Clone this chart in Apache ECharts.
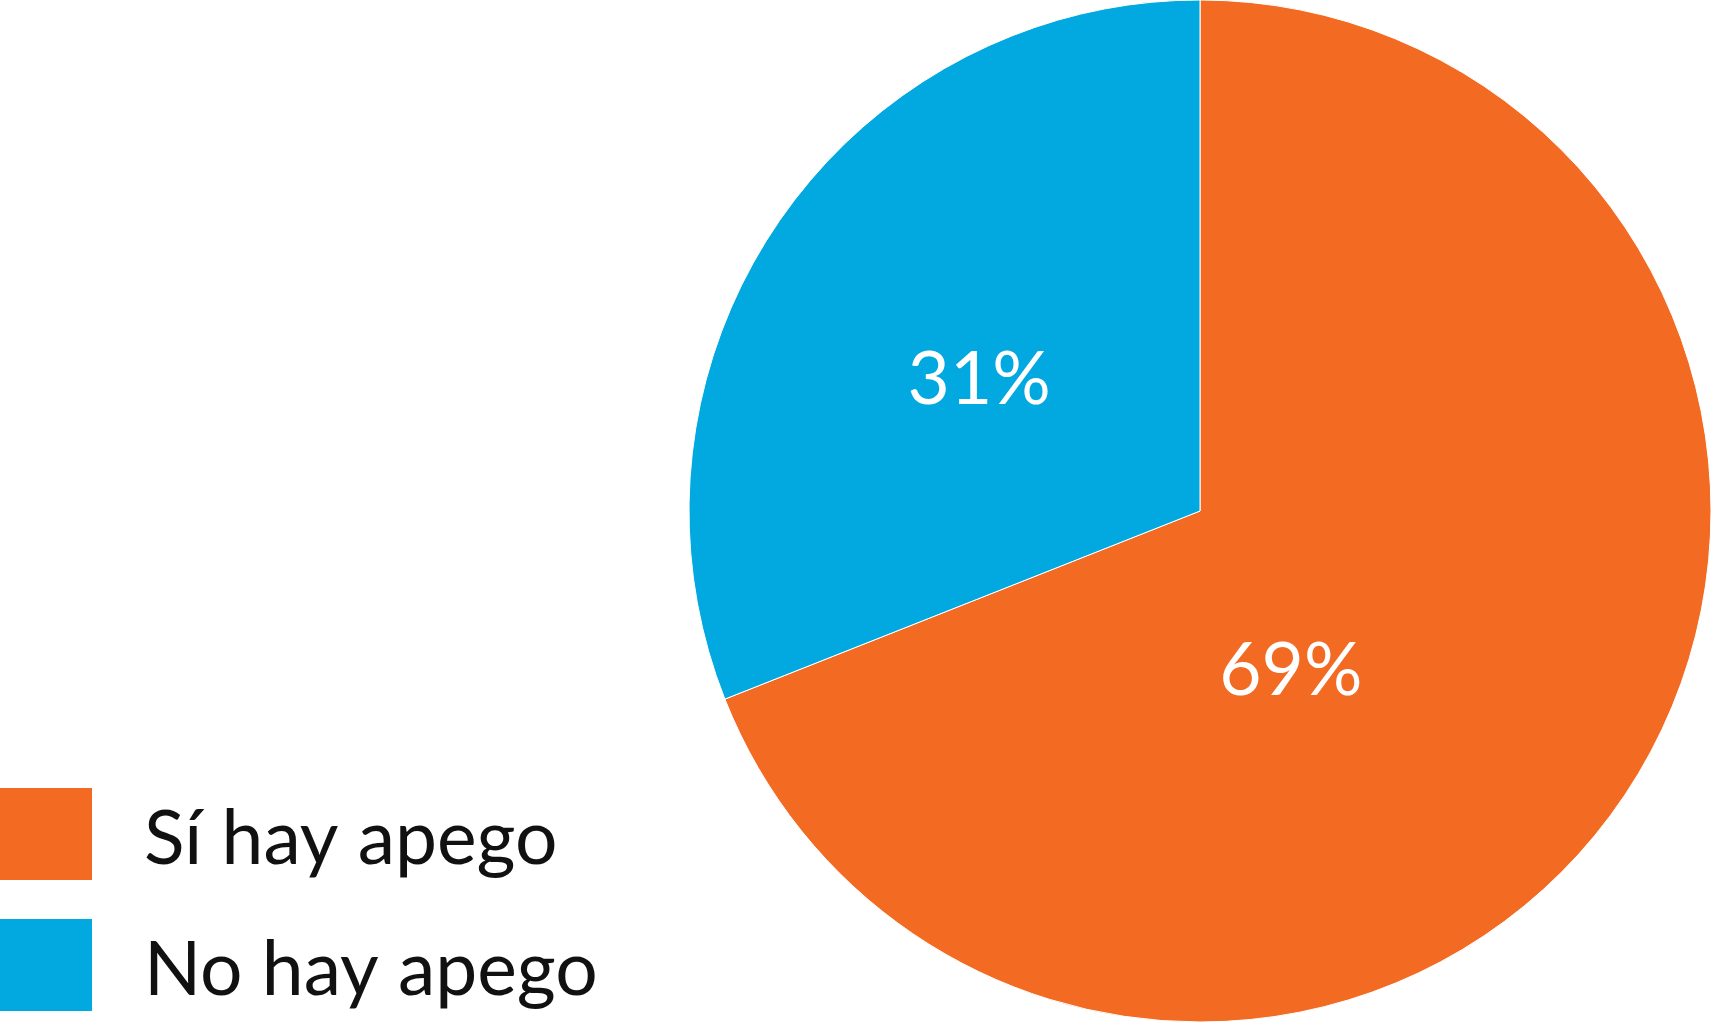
<!DOCTYPE html>
<html>
<head>
<meta charset="utf-8">
<script src="https://cdn.jsdelivr.net/npm/echarts@6/dist/echarts.min.js"></script>
<style>
html,body{margin:0;padding:0;background:#fff;}
#chart{width:1712px;height:1024px;}
</style>
</head>
<body>
<div id="chart"></div>
<script>
const categories = ['Sí hay apego', 'No hay apego'];
const values = [69, 31];
const colors = ['#F36A23', '#02A8E0'];
const labelOffsets = [[-123, 15], [-7, 15]];

const chart = echarts.init(document.getElementById('chart'));
chart.setOption({
  backgroundColor: '#ffffff',
  animation: false,
  legend: {
    orient: 'vertical',
    left: 0,
    top: 788,
    padding: 0,
    itemWidth: 92,
    itemHeight: 92,
    itemGap: 39,
    icon: 'rect',
    itemStyle: { borderWidth: 0 },
    data: categories,
    formatter: '{t|{name}}',
    textStyle: {
      fontFamily: 'Lato',
      fontSize: 75,
      color: '#111',
      padding: [0, 0, 0, 47],
      rich: {
        t: {
          fontFamily: 'Lato',
          fontSize: 75,
          color: '#111',
          padding: [12, 0, 0, 0]
        }
      }
    }
  },
  series: [{
    type: 'pie',
    center: [1200, 511],
    radius: [0, 511],
    startAngle: 90,
    clockwise: true,
    avoidLabelOverlap: false,
    itemStyle: { borderColor: '#ffffff', borderWidth: 1 },
    label: {
      show: true,
      position: 'inside',
      formatter: '{c}%',
      fontFamily: 'Lato',
      fontSize: 73,
      color: '#ffffff'
    },
    labelLine: { show: false },
    data: categories.map((name, i) => ({
      name: name,
      value: values[i],
      itemStyle: { color: colors[i] },
      label: { offset: labelOffsets[i] }
    }))
  }]
});
</script>
</body>
</html>
